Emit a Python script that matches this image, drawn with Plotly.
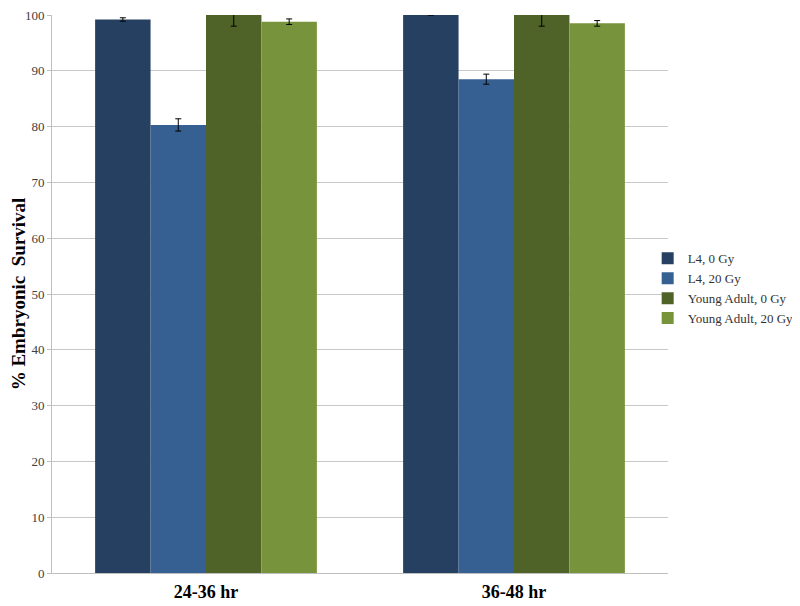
import plotly.graph_objects as go

# data
timepoints = ['24-36 hr', '36-48 hr']
series_names = ['L4, 0 Gy', 'L4, 20 Gy', 'Young Adult, 0 Gy', 'Young Adult, 20 Gy']
l4_0gy = [99.2, 100.0]
l4_20gy = [80.3, 88.5]
ya_0gy = [100.0, 100.0]
ya_20gy = [98.8, 98.5]
l4_0gy_err = [0.3, 0.0]
l4_20gy_err = [1.1, 0.9]
ya_0gy_err = [2.0, 2.0]
ya_20gy_err = [0.5, 0.5]

colors = ['#254061', '#366092', '#4f6228', '#77933c']

fig = go.Figure()
for name, vals, errs, col in zip(series_names,
                                 [l4_0gy, l4_20gy, ya_0gy, ya_20gy],
                                 [l4_0gy_err, l4_20gy_err, ya_0gy_err, ya_20gy_err],
                                 colors):
    fig.add_trace(go.Bar(
        x=timepoints, y=vals, name=name,
        marker=dict(color=col, line=dict(width=0)),
        error_y=dict(type='data', array=errs, color='#000000', thickness=1, width=3),
    ))

# page body adds an 8px margin, so the figure is sized to fit inside it
fig.update_layout(
    width=792, height=598,
    plot_bgcolor='white', paper_bgcolor='white',
    margin=dict(l=44, r=132, t=7, b=33, autoexpand=False),
    barmode='group', bargap=0.28, bargroupgap=0,
    font=dict(family='Liberation Serif', color='#404040'),
    legend=dict(x=0.967, y=0.51, yanchor='middle', xanchor='left',
                bgcolor='rgba(0,0,0,0)',
                font=dict(size=13, color='#333333'),
                itemwidth=30, tracegroupgap=3),
)
fig.update_xaxes(
    automargin=False,
    showline=True, linecolor='#bfbfbf', linewidth=1,
    tickfont=dict(size=18, color='#000000', family='Liberation Serif'),
    tickvals=timepoints, ticktext=['<b>%s</b>' % t for t in timepoints],
    ticks='', ticklabelstandoff=2,
)
fig.update_yaxes(
    automargin=False,
    range=[0, 100], dtick=10,
    showgrid=True, gridcolor='#c8c8c8', gridwidth=1,
    showline=True, linecolor='#bfbfbf', linewidth=1,
    ticks='outside', ticklen=4, tickcolor='#bfbfbf',
    tickfont=dict(size=13, color='#404040'),
    ticklabeloverflow='allow',
    title=dict(text='<b>% Embryonic  Survival</b>',
               font=dict(size=19, color='#000000', family='Liberation Serif'),
               standoff=8),
    zeroline=False,
)

fig.write_html("out.html")
